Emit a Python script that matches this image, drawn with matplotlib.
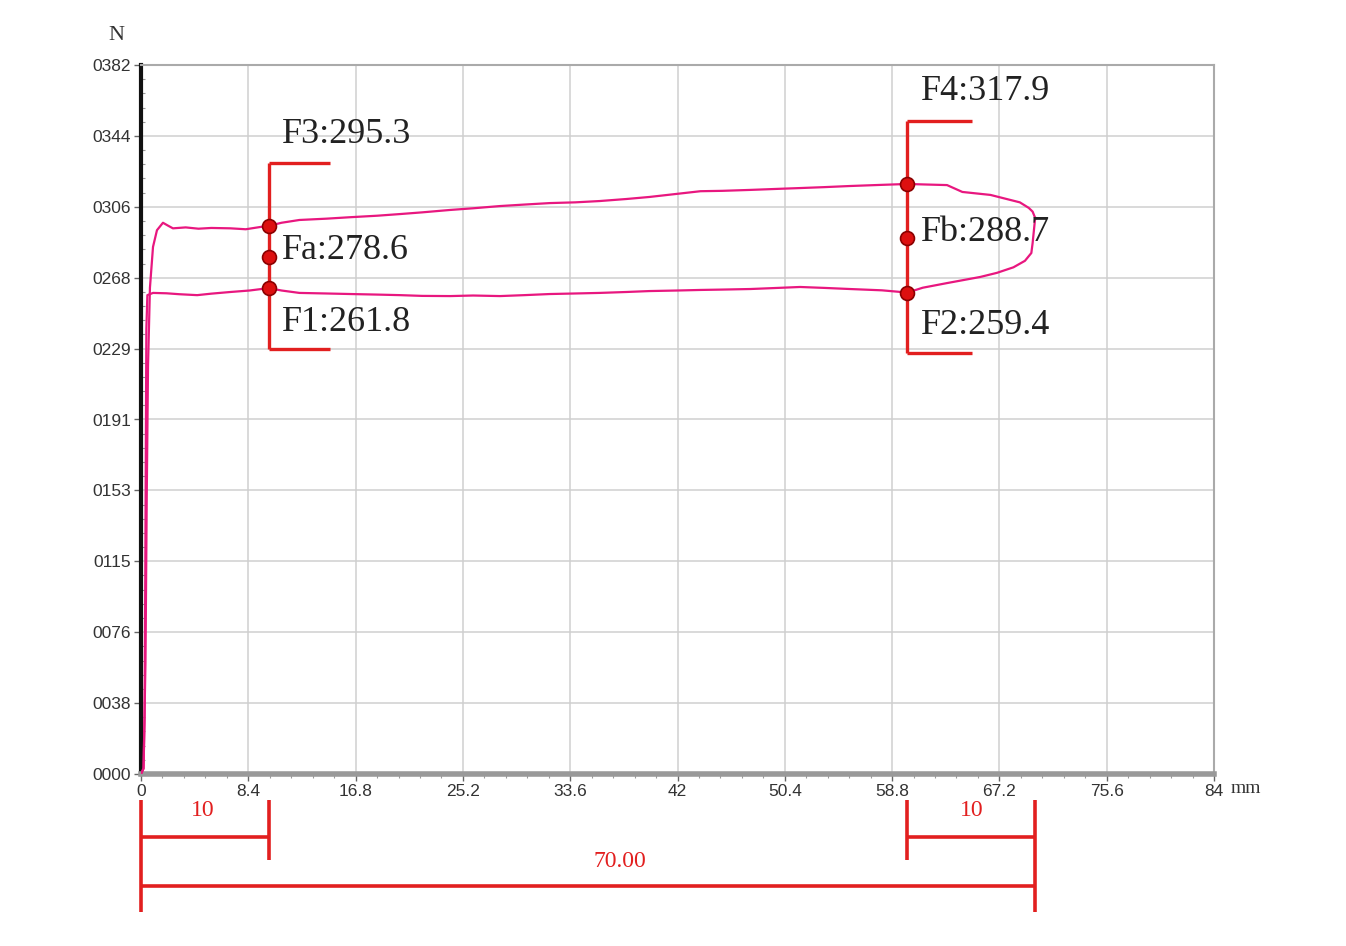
import matplotlib
matplotlib.use("Agg")
import matplotlib.pyplot as plt
from matplotlib.ticker import AutoMinorLocator, FixedLocator, FixedFormatter

# ---------------- data ----------------
# loading stroke (upper curve), x in mm, force in N
load_x = [0.0, 0.2, 0.35, 0.45, 0.55, 0.7, 0.94, 1.25, 1.72, 2.1, 2.5, 3.5, 4.5, 5.5,
          7.0, 8.2, 9.6, 10.0, 11.0, 12.4, 14.5, 16.4, 18.5, 20.3, 22.0, 24.2, 26.0,
          28.1, 30.0, 32.0, 34.0, 35.9, 38.0, 39.8, 42.0, 43.8, 45.5, 47.7, 50.0,
          51.6, 53.5, 55.5, 57.9, 60.0, 61.5, 63.1, 64.3, 66.5, 68.8, 69.5, 69.8, 70.0]
load_y = [0.0, 3.0, 60.0, 150.0, 220.0, 262.0, 284.0, 293.0, 297.0, 295.5, 294.0, 294.5,
          293.8, 294.2, 294.0, 293.5, 295.0, 295.3, 297.0, 298.5, 299.2, 300.0, 300.8,
          301.7, 302.6, 303.9, 304.8, 306.0, 306.8, 307.6, 308.0, 308.7, 309.8, 310.9,
          312.6, 314.0, 314.2, 314.7, 315.3, 315.7, 316.2, 316.8, 317.4, 317.9, 317.6,
          317.3, 313.6, 312.0, 308.0, 305.0, 303.0, 299.6]

# unloading stroke (lower curve)
unload_x = [70.0, 69.8, 69.7, 69.2, 68.3, 67.0, 65.7, 63.1, 61.2, 60.0, 58.0, 55.5,
            53.5, 51.6, 49.5, 47.7, 45.5, 43.8, 42.0, 39.8, 38.0, 35.9, 34.0, 32.0,
            30.0, 28.1, 26.0, 24.2, 22.0, 20.3, 18.5, 16.4, 14.5, 12.4, 11.0, 10.0,
            8.5, 7.0, 5.5, 4.4, 3.0, 2.0, 0.94, 0.5, 0.42, 0.38, 0.33, 0.28, 0.2, 0.0]
unload_y = [299.6, 286.0, 280.7, 276.5, 273.0, 270.0, 267.8, 264.5, 262.0, 259.4, 260.6,
            261.3, 261.9, 262.4, 261.8, 261.3, 261.0, 260.8, 260.5, 260.2, 259.7, 259.2,
            258.9, 258.6, 258.0, 257.5, 257.8, 257.5, 257.6, 258.0, 258.3, 258.6, 258.9,
            259.2, 260.5, 261.8, 260.5, 259.7, 258.8, 258.0, 258.5, 259.0, 259.2, 258.0,
            240.0, 180.0, 100.0, 30.0, 3.0, 0.0]

# measurement points
pts_x = [10, 10, 10, 60, 60, 60]
pts_y = [295.3, 278.6, 261.8, 317.9, 288.7, 259.4]
pts_lbl = ["F3:295.3", "Fa:278.6", "F1:261.8", "F4:317.9", "Fb:288.7", "F2:259.4"]

# axis ticks
x_ticks = [0, 8.4, 16.8, 25.2, 33.6, 42, 50.4, 58.8, 67.2, 75.6, 84]
x_tick_labels = ["0", "8.4", "16.8", "25.2", "33.6", "42", "50.4", "58.8", "67.2", "75.6", "84"]
y_ticks = [0, 38.2, 76.4, 114.6, 152.8, 191.0, 229.2, 267.4, 305.6, 343.8, 382]
y_tick_labels = ["0000", "0038", "0076", "0115", "0153", "0191", "0229", "0268", "0306", "0344", "0382"]

# dimension annotations (mm)
dim_start = 0
dim_seg1 = 10
dim_seg2_start = 60
dim_end = 70
dim_labels = ["10", "10", "70.00"]

# ---------------- styling ----------------
CURVE = "#e8177f"
RED = "#e21f1f"
SERIF = "Liberation Serif"

fig = plt.figure(figsize=(13.46, 9.46), dpi=100)
ax = fig.add_axes([141/1346, 1 - 774/946, (1214-141)/1346, (774-65)/946])

ax.set_xlim(0, 84)
ax.set_ylim(0, 382)

ax.grid(True, which="major", color="#cfcfcf", lw=1.1, zorder=0)
ax.set_axisbelow(True)

ax.plot(load_x, load_y, color=CURVE, lw=1.6, zorder=3)
ax.plot(unload_x, unload_y, color=CURVE, lw=1.6, zorder=3)

# brackets at measurement positions
b1_bot, b1_top, b1_end = 229, 329.2, 14.8
b2_bot, b2_top, b2_end = 226.8, 351.8, 65.05
bk = dict(color=RED, lw=2.4, zorder=4, solid_capstyle="butt")
ax.plot([10, 10], [b1_bot, b1_top], **bk)
ax.plot([10, b1_end], [b1_top, b1_top], **bk)
ax.plot([10, b1_end], [b1_bot, b1_bot], **bk)
ax.plot([60, 60], [b2_bot, b2_top], **bk)
ax.plot([60, b2_end], [b2_top, b2_top], **bk)
ax.plot([60, b2_end], [b2_bot, b2_bot], **bk)

ax.plot(pts_x, pts_y, ls="none", marker="o", ms=10, mfc="#dd1010", mec="#8a0000",
        mew=1.2, zorder=5)

lbl_pos = [(11.0, 344.3), (11.0, 282.3), (11.0, 243.5),
           (61.1, 367.5), (61.1, 292.0), (61.1, 241.9)]
for (lx, ly), t in zip(lbl_pos, pts_lbl):
    ax.text(lx, ly, t, family=SERIF, fontsize=26, color="#222222",
            ha="left", va="center", zorder=6)

# ticks
ax.xaxis.set_major_locator(FixedLocator(x_ticks))
ax.xaxis.set_major_formatter(FixedFormatter(x_tick_labels))
ax.yaxis.set_major_locator(FixedLocator(y_ticks))
ax.yaxis.set_major_formatter(FixedFormatter(y_tick_labels))
ax.xaxis.set_minor_locator(AutoMinorLocator(5))
ax.yaxis.set_minor_locator(AutoMinorLocator(5))
ax.tick_params(axis="both", which="major", labelsize=12.5, length=5, width=1,
               color="#666666", pad=2)
ax.tick_params(axis="x", which="minor", length=3, width=0.8, color="#999999", direction="out")
ax.tick_params(axis="y", which="minor", length=3, width=0.8, color="#999999", direction="in")
for lab in ax.get_xticklabels() + ax.get_yticklabels():
    lab.set_family("Liberation Sans")
    lab.set_color("#333333")

for s in ("top", "right"):
    ax.spines[s].set_color("#aaaaaa")
    ax.spines[s].set_linewidth(1.5)
ax.spines["left"].set_color("#111111")
ax.spines["left"].set_linewidth(3)
ax.spines["bottom"].set_color("#999999")
ax.spines["bottom"].set_linewidth(4)

# axis unit labels
ax.text(-1.96, 398, "N", family=SERIF, fontsize=16, color="#333333",
        ha="center", va="center", clip_on=False)
ax.text(86.5, -8.0, "mm", family=SERIF, fontsize=14, color="#333333",
        ha="center", va="center", clip_on=False)

# dimension lines below the axis
y_top, y_short, y_long = -14.0, -46.3, -74.4
y_h1, y_h2 = -33.9, -60.3
kw = dict(color=RED, lw=2.6, clip_on=False, solid_capstyle="butt", zorder=6)
ax.plot([dim_start, dim_start], [y_top, y_long], **kw)
ax.plot([dim_seg1, dim_seg1], [y_top, y_short], **kw)
ax.plot([dim_seg2_start, dim_seg2_start], [y_top, y_short], **kw)
ax.plot([dim_end, dim_end], [y_top, y_long], **kw)
ax.plot([dim_start, dim_seg1], [y_h1, y_h1], **kw)
ax.plot([dim_seg2_start, dim_end], [y_h1, y_h1], **kw)
ax.plot([dim_start, dim_end], [y_h2, y_h2], **kw)
ax.text((dim_start + dim_seg1) / 2 - 0.2, -19.4, dim_labels[0], family=SERIF, fontsize=17,
        color=RED, ha="center", va="center", clip_on=False)
ax.text((dim_seg2_start + dim_end) / 2, -19.4, dim_labels[1], family=SERIF, fontsize=17,
        color=RED, ha="center", va="center", clip_on=False)
ax.text((dim_start + dim_end) / 2 + 2.5, -47.4, dim_labels[2], family=SERIF, fontsize=17,
        color=RED, ha="center", va="center", clip_on=False)

fig.savefig("out.png", dpi=100, facecolor="white")
